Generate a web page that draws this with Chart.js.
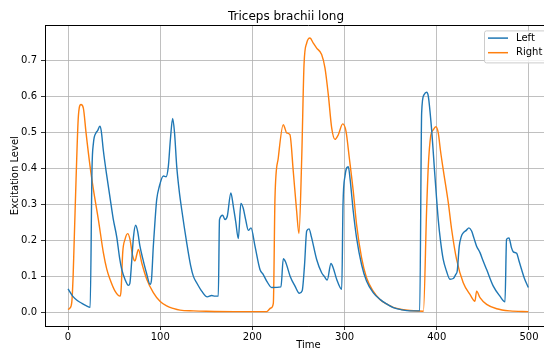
<!DOCTYPE html>
<html><head><meta charset="utf-8">
<script src="https://cdn.jsdelivr.net/npm/chart.js@4.4.1/dist/chart.umd.min.js"></script>
<style>html,body{margin:0;padding:0;overflow:hidden;background:#fff}#wrap{width:572px;height:351px;position:relative}</style>
</head><body><div id="wrap"><canvas id="c" width="572" height="351"></canvas></div>
<script>
const chartTitle = 'Triceps brachii long';
const xLabel = 'Time';
const yLabel = 'Excitation Level';
const seriesNames = ['Left', 'Right'];
const xTickValues = [0, 100, 200, 300, 400, 500];
const yTickValues = [0, 0.1, 0.2, 0.3, 0.4, 0.5, 0.6, 0.7];

const leftTime = [0,5,10,15,20,24,26,27.5,30.5,32,34.5,36,38.3,42,45.5,49,52.8,56,58.2,62,65.4,67,69,71,73.4,75.5,78,81,85,89,90.5,92.5,94.5,96.2,99,103.4,106.3,108.8,111,113.5,115.5,117.9,120.5,123.3,128.7,133,136,139.6,145,151,155.8,159.4,163,164.3,167.8,170.3,172.8,176.6,179.3,182,184.7,187.5,190,192.5,195.6,198.5,202.8,208.2,211.8,215.5,221,231,233.5,236,241,246.2,250.9,254,256.5,258.9,261.4,264,269.7,275.1,278,281.2,285.2,287.5,291.4,296.9,298.3,300.5,304,306,309.4,313,318.4,323.8,331,338.4,345,352.8,362,371,381.5,383.6,386.1,389,390.8,394.4,398,401.6,404,407,410.5,414.3,417.9,420.5,422.2,424.4,426.5,428.7,432,434.9,437.8,440.5,443.2,446.9,450,454.1,461.3,468.5,474,475.7,478.3,481,483,486.7,489,492,495,499.3];
const leftValues = [0.065,0.045,0.033,0.025,0.018,0.014,0.40,0.47,0.50,0.505,0.518,0.505,0.45,0.38,0.32,0.26,0.21,0.15,0.12,0.09,0.075,0.08,0.14,0.21,0.242,0.225,0.184,0.15,0.11,0.078,0.09,0.184,0.26,0.314,0.35,0.379,0.377,0.406,0.48,0.539,0.50,0.406,0.34,0.286,0.194,0.13,0.10,0.082,0.059,0.043,0.047,0.045,0.045,0.258,0.27,0.258,0.268,0.332,0.295,0.25,0.205,0.303,0.29,0.26,0.228,0.235,0.184,0.119,0.105,0.087,0.069,0.071,0.149,0.14,0.10,0.073,0.053,0.06,0.13,0.226,0.232,0.21,0.147,0.11,0.10,0.09,0.136,0.125,0.092,0.064,0.30,0.38,0.405,0.37,0.281,0.207,0.133,0.087,0.055,0.036,0.024,0.013,0.007,0.004,0.004,0.555,0.605,0.612,0.601,0.508,0.379,0.258,0.20,0.147,0.115,0.092,0.094,0.105,0.115,0.184,0.21,0.221,0.228,0.235,0.226,0.205,0.184,0.166,0.145,0.119,0.073,0.045,0.029,0.203,0.207,0.18,0.168,0.164,0.145,0.119,0.095,0.069];

const rightTime = [0,2,4,5.5,6.5,8.7,11.2,14,16.6,19.5,23.9,27.5,32.9,38.3,42,45.5,51,56.4,57.5,59.3,61.8,64.7,67,70.2,72.7,74.5,76.3,79.9,85.4,92.5,100,107,114,121.5,136,150,180,215.5,220,222.7,224.5,228.1,233.5,235.5,237.1,240.7,244.3,248,250.5,253.5,256,258.9,262.5,266,269.7,275.1,278.7,282.3,286,289.6,293.2,298,301.5,305.1,309.4,313,318.4,323.8,331,338.4,345,352.8,362,371,385.5,389,390.8,393.4,396.3,399.1,401.6,404,407,412.5,416.1,421.5,428.7,436,441.4,443.2,446.9,454.1,465,479.4,499.3];
const rightValues = [0.008,0.012,0.027,0.10,0.184,0.37,0.545,0.578,0.568,0.50,0.406,0.342,0.258,0.166,0.12,0.092,0.059,0.045,0.06,0.166,0.203,0.219,0.205,0.156,0.143,0.16,0.175,0.138,0.092,0.055,0.03,0.018,0.011,0.006,0.004,0.003,0.002,0.002,0.012,0.025,0.319,0.43,0.522,0.51,0.499,0.494,0.393,0.281,0.219,0.43,0.689,0.749,0.763,0.749,0.735,0.717,0.68,0.606,0.513,0.481,0.494,0.524,0.504,0.43,0.337,0.244,0.152,0.096,0.059,0.036,0.024,0.014,0.008,0.005,0.003,0.286,0.406,0.49,0.508,0.516,0.499,0.45,0.397,0.305,0.231,0.147,0.082,0.05,0.031,0.059,0.041,0.022,0.01,0.004,0.002];

const seriesColors = ['#1f77b4', '#ff7f0e'];
const toPoints = (ts, vs) => ts.map((t, i) => ({x: t, y: vs[i]}));

Chart.defaults.font.family = "'DejaVu Sans', sans-serif";
Chart.defaults.color = '#000';

const framePlugin = {
  id: 'frame',
  afterDraw(chart) {
    const {ctx, chartArea: a} = chart;
    ctx.save();
    ctx.strokeStyle = '#000';
    ctx.lineWidth = 1;
    ctx.beginPath();
    ctx.moveTo(a.left, Math.round(a.top) + 0.5);
    ctx.lineTo(a.right, Math.round(a.top) + 0.5);
    ctx.stroke();
    // legend
    const ds = chart.data.datasets;
    const right = chart.scales.x.getPixelForValue(525) - 5;
    const top = a.top + 5;
    const w = 63, rowH = 14.6, h = 32;
    const left = right - w;
    ctx.fillStyle = 'rgba(255,255,255,0.8)';
    ctx.strokeStyle = '#cccccc';
    ctx.lineWidth = 1;
    ctx.beginPath();
    if (ctx.roundRect) ctx.roundRect(left + 0.5, top + 0.5, w, h, 2); else ctx.rect(left + 0.5, top + 0.5, w, h);
    ctx.fill();
    ctx.stroke();
    ctx.font = "10px 'DejaVu Sans', sans-serif";
    ctx.textBaseline = 'middle';
    ctx.textAlign = 'left';
    ds.forEach((d, i) => {
      const y = top + 7.7 + i * rowH;
      ctx.strokeStyle = d.borderColor;
      ctx.lineWidth = 1.5;
      ctx.beginPath();
      ctx.moveTo(left + 4, y);
      ctx.lineTo(left + 24, y);
      ctx.stroke();
      ctx.fillStyle = '#000';
      ctx.fillText(d.label, left + 32, y);
    });
    ctx.restore();
  }
};

new Chart(document.getElementById('c'), {
  type: 'line',
  data: {
    datasets: [
      {label: seriesNames[0], data: toPoints(leftTime, leftValues), borderColor: seriesColors[0], borderWidth: 1.4, pointRadius: 0, fill: false, cubicInterpolationMode: 'monotone'},
      {label: seriesNames[1], data: toPoints(rightTime, rightValues), borderColor: seriesColors[1], borderWidth: 1.4, pointRadius: 0, fill: false, cubicInterpolationMode: 'monotone'}
    ]
  },
  options: {
    responsive: false,
    animation: false,
    layout: {padding: 0},
    plugins: {
      legend: {display: false},
      tooltip: {enabled: false},
      title: {display: true, text: chartTitle, color: '#000', font: {size: 12, weight: 'normal'}, padding: {top: 10, bottom: 1}}
    },
    scales: {
      x: {
        type: 'linear', min: -25, max: 546.7,
        afterBuildTicks: s => { s.ticks = xTickValues.map(v => ({value: v})); },
        afterFit: s => { s.height = 25; },
        grid: {color: '#b0b0b0', lineWidth: 0.8, tickColor: '#000', tickLength: 4, drawTicks: true},
        border: {display: true, color: '#000', width: 1},
        ticks: {color: '#000', font: {size: 10}, padding: 1, maxRotation: 0, callback: v => String(v)},
        title: {display: true, text: xLabel, color: '#000', font: {size: 10}, padding: {top: 0, bottom: 0}}
      },
      y: {
        type: 'linear', min: -0.038, max: 0.798,
        afterBuildTicks: s => { s.ticks = yTickValues.map(v => ({value: v})); },
        afterFit: s => { s.width = 45; },
        grid: {color: '#b0b0b0', lineWidth: 0.8, tickColor: '#000', tickLength: 4, drawTicks: true},
        border: {display: true, color: '#000', width: 1},
        ticks: {color: '#000', font: {size: 10}, padding: 4, callback: v => v.toFixed(1)},
        title: {display: true, text: yLabel, color: '#000', font: {size: 10}, padding: {top: 9, bottom: 0}}
      }
    }
  },
  plugins: [framePlugin]
});
</script>
</body></html>
